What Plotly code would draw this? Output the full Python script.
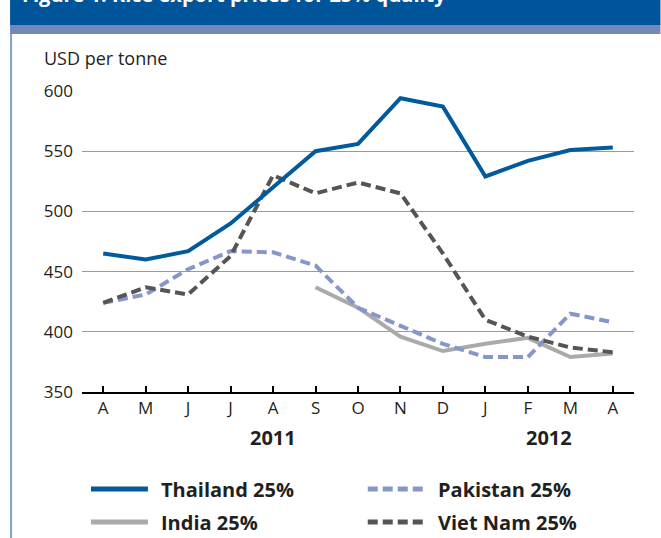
import plotly.graph_objects as go

months = ["A", "M", "J", "J", "A", "S", "O", "N", "D", "J", "F", "M", "A"]
years = ["2011", "2012"]
thailand = [465, 460, 467, 490, 520, 550, 556, 594, 587, 529, 542, 551, 553]
pakistan = [424, 431, 452, 467, 466, 455, 420, 405, 390, 379, 379, 415, 408]
india = [None, None, None, None, None, 437, 420, 396, 384, 390, 395, 379, 382]
vietnam = [424, 437, 431, 463, 530, 515, 524, 515, 465, 410, 396, 387, 383]
yticks = [350, 400, 450, 500, 550, 600]

x = list(range(len(months)))

L, R, T, B = 82, 634.5, 91, 392
W, H = R - L, B - T


def px(v):
    return (v - L) / W


def py(v):
    return (B - v) / H


FONT = "Open Sans"
fig = go.Figure()
series = [
    ("Thailand 25%", thailand, "#005A9C", "solid"),
    ("Pakistan 25%", pakistan, "#8597C8", "10px,5px"),
    ("India 25%", india, "#AAAAAA", "solid"),
    ("Viet Nam 25%", vietnam, "#555555", "10px,5px"),
]
# draw order: India/Pakistan under, Thailand on top
for name, vals, col, dash in [series[2], series[1], series[3], series[0]]:
    fig.add_trace(go.Scatter(x=x, y=vals, mode="lines", name=name,
                             line=dict(color=col, width=4, dash=dash),
                             connectgaps=False, showlegend=False))

shapes = []
annotations = []
# header bars
shapes.append(dict(type="rect", xref="paper", yref="paper", x0=px(10), x1=px(661), y0=py(0), y1=py(25),
                   fillcolor="#00559A", line_width=0, layer="above"))
shapes.append(dict(type="rect", xref="paper", yref="paper", x0=px(10), x1=px(661), y0=py(25), y1=py(34),
                   fillcolor="#7387B9", line_width=0, layer="above"))
shapes.append(dict(type="line", xref="paper", yref="paper", x0=px(11), x1=px(11), y0=py(34), y1=py(540),
                   line=dict(color="#86A3C3", width=2)))
annotations.append(dict(text="<b>Figure 1. Rice export prices for 25% quality</b>", xref="paper", yref="paper",
                        x=px(20), y=py(10), xanchor="left", yanchor="bottom", showarrow=False,
                        font=dict(family=FONT, size=20, color="white")))

# legend (manual)
legend_items = [
    (series[0], 91, 489),
    (series[1], 368, 489),
    (series[2], 91, 522),
    (series[3], 368, 522),
]
for (name, vals, col, dash), lx, ly in legend_items:
    shapes.append(dict(type="line", xref="paper", yref="paper", x0=px(lx), x1=px(lx + 57), y0=py(ly), y1=py(ly),
                       line=dict(color=col, width=5, dash=dash)))
    annotations.append(dict(text="<b>" + name + "</b>", xref="paper", yref="paper", x=px(lx + 68), y=py(ly),
                            xanchor="left", yanchor="middle", showarrow=False,
                            font=dict(family=FONT, size=20, color="#231F20")))

annotations.append(dict(text="USD per tonne", xref="paper", yref="paper", x=px(42), y=py(58),
                        xanchor="left", yanchor="middle", showarrow=False,
                        font=dict(family=FONT, size=18, color="#231F20")))
annotations.append(dict(text="<b>" + years[0] + "</b>", xref="x", yref="paper", x=4, y=py(437),
                        xanchor="center", yanchor="middle", showarrow=False,
                        font=dict(family=FONT, size=20, color="#231F20")))
annotations.append(dict(text="<b>" + years[1] + "</b>", xref="x", yref="paper", x=10.5, y=py(437),
                        xanchor="center", yanchor="middle", showarrow=False,
                        font=dict(family=FONT, size=20, color="#231F20")))

fig.update_layout(
    width=661, height=538,
    margin=dict(l=L, r=661 - R, t=T, b=538 - B),
    paper_bgcolor="white", plot_bgcolor="white",
    font=dict(family=FONT, size=17, color="#231F20"),
    shapes=shapes, annotations=annotations,
    showlegend=False,
)
fig.update_xaxes(range=[-0.5, 12.5], tickvals=x, ticktext=months, showgrid=False,
                 showline=True, linecolor="black", linewidth=2,
                 ticks="inside", ticklen=6, tickwidth=2, tickcolor="black",
                 tickfont=dict(size=17), zeroline=False, fixedrange=True)
fig.update_yaxes(range=[350, 600], tickvals=yticks, showgrid=True, gridcolor="#9A9A9A", gridwidth=1.2,
                 zeroline=False, showline=False, ticks="", ticklabelstandoff=8,
                 tickfont=dict(size=17), fixedrange=True)

fig.write_html("out.html", config={"displayModeBar": False},
               post_script="document.body.style.margin='0';document.body.style.overflow='hidden';")
